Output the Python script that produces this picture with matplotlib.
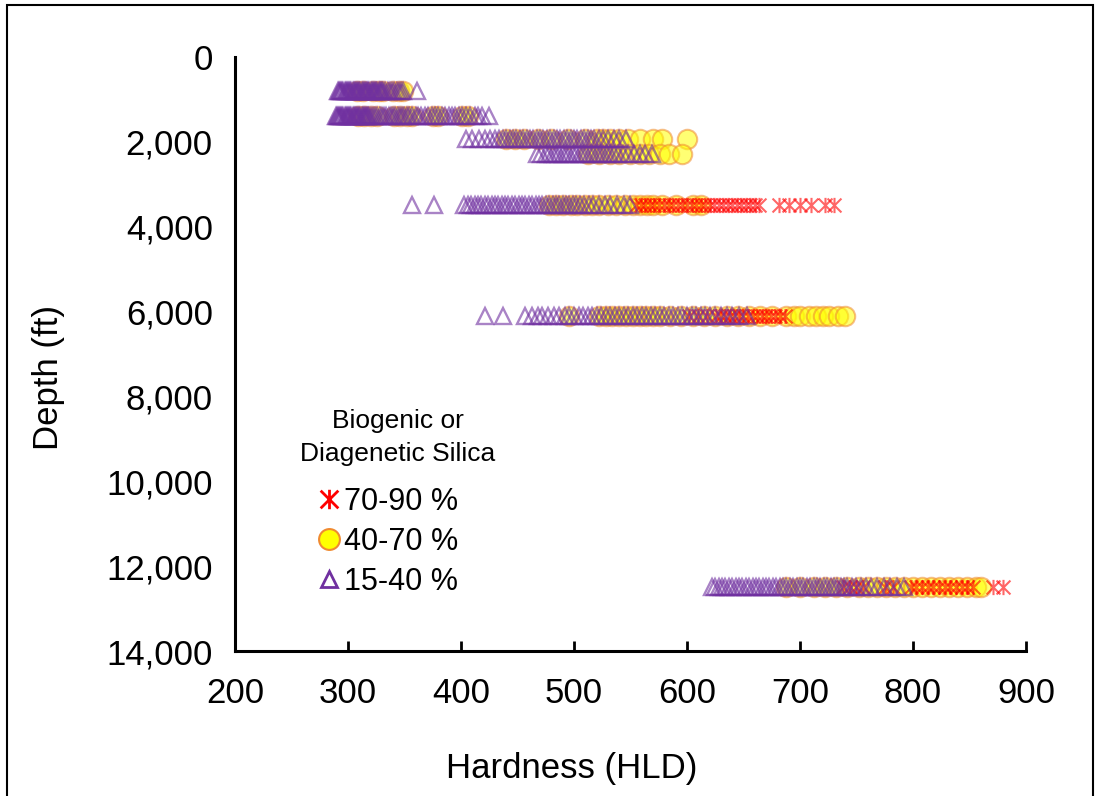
import matplotlib
matplotlib.use("Agg")
import matplotlib.pyplot as plt
import numpy as np
from matplotlib.path import Path
from matplotlib.lines import Line2D
from matplotlib.patches import Rectangle
from matplotlib.ticker import FuncFormatter

plt.rcParams['font.family'] = ['Liberation Sans', 'DejaVu Sans']

# depth levels (ft) of the sampled intervals
depths = [800, 1380, 1930, 2280, 3480, 6100, 12500]

# 15-40 % silica (triangles), hardness HLD per depth level
tri_800 = [291, 292, 293, 294, 295, 296, 297, 298, 299, 300, 301, 302, 303, 304, 305, 306, 307, 308, 309, 310,
           311, 312, 313, 314, 315, 316, 317, 318, 319, 320, 321, 322, 323, 324, 325, 326, 327, 328, 329, 330,
           331, 333, 335, 337, 339, 341, 343, 345, 347, 349, 361]
tri_1380 = [289, 290, 291, 292, 293, 294, 295, 296, 297, 298, 299, 300, 301, 302, 303, 304, 305, 306, 307, 308,
            309, 310, 311, 312, 313, 314, 315, 316, 317, 318, 319, 320, 322, 324, 326, 328, 330, 332, 334, 336,
            338, 340, 342, 344, 346, 348, 350, 352, 354, 357, 360, 362, 365, 368, 371, 374, 377, 380, 383, 386,
            389, 392, 395, 398, 401, 404, 408, 412, 415, 419, 425]
tri_1930 = [404, 410, 416, 421, 426, 430, 434, 437, 440, 443, 446, 449, 452, 455, 458, 461, 464, 467, 470, 473,
            476, 479, 482, 485, 488, 491, 494, 497, 500, 503, 506, 509, 512, 515, 518, 522, 526, 530, 535, 540, 546]
tri_2280 = [467, 471, 475, 478, 481, 484, 487, 490, 493, 496, 499, 502, 505, 508, 511, 514, 517, 520, 523, 526,
            529, 532, 535, 539, 543, 548, 553, 558, 563, 569]
tri_3480 = [357, 376, 403, 406, 409, 412, 415, 418, 421, 424, 427, 430, 433, 436, 439, 442, 445, 448, 451, 454,
            457, 460, 463, 466, 469, 472, 475, 478, 481, 484, 487, 490, 493, 496, 499, 502, 505, 509, 513, 517,
            522, 527, 532, 538, 544, 550]
tri_6100 = [421, 437, 457, 463, 468, 472, 477, 482, 487, 492, 496, 500, 504, 508, 512, 516, 520, 524, 528, 532,
            536, 540, 544, 548, 552, 556, 560, 564, 568, 572, 576, 580, 584, 588, 592, 596, 600, 604, 608, 612,
            616, 620, 625, 630, 635, 640, 646, 653]
tri_12500 = [622, 625, 628, 631, 634, 637, 640, 643, 646, 649, 652, 655, 658, 661, 664, 667, 670, 673, 676, 679,
             682, 685, 688, 691, 694, 697, 700, 703, 706, 709, 712, 715, 718, 721, 724, 727, 730, 733, 736, 739,
             742, 746, 750, 754, 758, 763, 768, 774, 780, 786, 792]

# 40-70 % silica (circles)
cir_800 = [308, 313, 322, 327, 331, 340, 345, 349]
cir_1380 = [309, 314, 320, 326, 341, 346, 352, 357, 375, 380, 401, 406]
cir_1930 = [440, 448, 456, 468, 480, 495, 510, 520, 526, 532, 540, 548, 558, 570, 578, 600]
cir_2280 = [512, 522, 532, 540, 550, 558, 566, 576, 584, 596]
cir_3480 = [478, 484, 490, 497, 503, 510, 516, 522, 530, 537, 545, 552, 558, 565, 570, 578, 590, 605, 612]
cir_6100 = [496, 522, 528, 534, 540, 546, 552, 558, 564, 570, 576, 585, 595, 605, 615, 625, 635, 645, 655, 665,
            675, 688, 695, 700, 708, 714, 720, 726, 734, 740]
cir_12500 = [688, 700, 712, 722, 732, 742, 752, 760, 768, 776, 784, 792, 800, 808, 816, 824, 832, 840, 848, 856, 860]

# 70-90 % silica (asterisks)
red_3480 = [555, 559, 563, 567, 571, 575, 580, 584, 588, 592, 596, 600, 604, 608, 612, 616, 620, 624, 628, 632,
            636, 640, 644, 648, 652, 656, 660, 664, 681, 690, 700, 710, 722, 730]
red_6100 = [602, 610, 618, 626, 630, 634, 638, 642, 646, 650, 654, 658, 662, 666, 670, 674, 678, 682, 687]
red_12500 = [738, 744, 750, 756, 775, 782, 798, 803, 808, 813, 818, 823, 828, 833, 838, 843, 848, 853, 871, 880]

tri_rows = [tri_800, tri_1380, tri_1930, tri_2280, tri_3480, tri_6100, tri_12500]
cir_rows = [cir_800, cir_1380, cir_1930, cir_2280, cir_3480, cir_6100, cir_12500]
red_rows = [red_3480, red_6100, red_12500]
red_depths = [3480, 6100, 12500]


def flatten(rows, levels):
    xs, ys = [], []
    for r, d in zip(rows, levels):
        xs += r
        ys += [d] * len(r)
    return xs, ys


tri_x, tri_y = flatten(tri_rows, depths)
cir_x, cir_y = flatten(cir_rows, depths)
red_x, red_y = flatten(red_rows, red_depths)

# excel style asterisk: an x with a vertical bar
star = Path([(-1, -1), (1, 1), (-1, 1), (1, -1), (0, -1.1), (0, 1.1)],
            [Path.MOVETO, Path.LINETO, Path.MOVETO, Path.LINETO, Path.MOVETO, Path.LINETO])

purple = '#7030A0'
orange = '#F08A30'
red = '#FF0000'

fig = plt.figure(figsize=(10.99, 7.96), dpi=100)
ax = fig.add_axes([235 / 1099, 1 - 651 / 796, 791 / 1099, 594 / 796])

ax.plot(cir_x, cir_y, 'o', ms=14, mfc='#FFFF00', mec=orange, mew=1.5, alpha=0.55)
ax.plot(red_x, red_y, ls='none', marker=star, ms=11, mec=red, mfc='none', mew=1.5, alpha=0.6)
ax.plot(tri_x, tri_y, '^', ms=11, mfc='none', mec=purple, mew=1.7, alpha=0.6)

ax.set_xlim(200, 900)
ax.set_ylim(14000, 0)
ax.set_xticks(np.arange(200, 901, 100))
ax.set_yticks(np.arange(0, 14001, 2000))
ax.yaxis.set_major_formatter(FuncFormatter(lambda v, p: f'{int(v):,}'))

for s in ['top', 'right']:
    ax.spines[s].set_visible(False)
for s in ['left', 'bottom']:
    ax.spines[s].set_linewidth(2.2)
ax.tick_params(axis='x', direction='in', length=7, width=2, labelsize=25, pad=19)
ax.tick_params(axis='y', length=0, labelsize=25, pad=16)

ax.set_xlabel('Hardness (HLD)', fontsize=25)
ax.xaxis.label.set_va('center')
ax.xaxis.set_label_coords(0.426, -0.197)
ax.set_ylabel('Depth (ft)', fontsize=25)
ax.yaxis.label.set_va('center')
ax.yaxis.set_label_coords(-0.236, 0.46)

handles = [
    Line2D([], [], ls='none', marker=star, ms=14, mec=red, mfc='none', mew=2),
    Line2D([], [], ls='none', marker='o', ms=15, mfc='#FFFF00', mec=orange, mew=1.5),
    Line2D([], [], ls='none', marker='^', ms=11, mfc='none', mec=purple, mew=2),
]
leg = ax.legend(handles, ['70-90 %  ', '40-70 %  ', '15-40 %  '],
                title='Biogenic or\nDiagenetic Silica', title_fontsize=19, fontsize=22,
                frameon=False, loc='upper left', bbox_to_anchor=(300 / 1099, 1 - 409 / 796),
                bbox_transform=fig.transFigure, borderpad=0, borderaxespad=0, alignment='center',
                handlelength=0.6, handletextpad=0.2, labelspacing=0.33)
leg.get_title().set_multialignment('center')
leg.get_title().set_linespacing(1.45)
leg._legend_box.sep += 8

fig.patches.append(Rectangle((7 / 1099, -0.05), 1086 / 1099, 1.05 - 5 / 796,
                             transform=fig.transFigure, fill=False, lw=1.5, ec='black'))

fig.savefig('out.png', dpi=100)
